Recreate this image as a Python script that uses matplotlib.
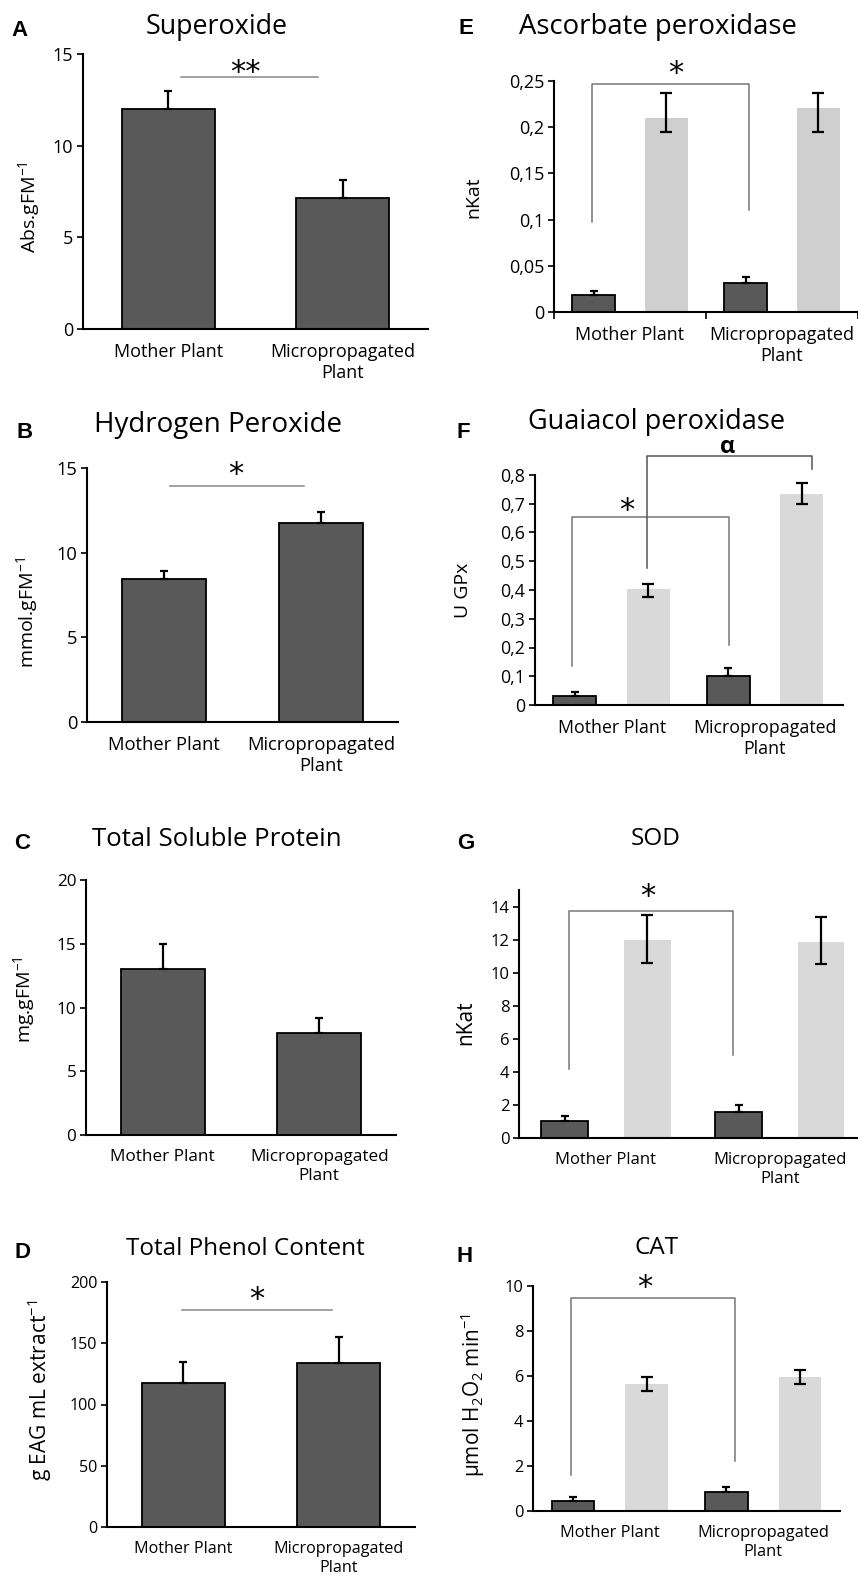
import matplotlib
matplotlib.use("Agg")
import matplotlib.pyplot as plt
import numpy as np

plt.rcParams['font.family'] = ['Open Sans', 'DejaVu Sans']

W, H = 858, 1575
DARK = '#595959'
LIGHT = '#d9d9d9'

groups = ['Mother Plant', 'Micropropagated\nPlant']

# two-bar panels (dark bars, upper error only)
supero = [12.0, 7.15]
supero_err = [1.0, 0.98]
h2o2 = [8.45, 11.75]
h2o2_err = [0.45, 0.65]
protein = [13.0, 8.0]
protein_err = [2.0, 1.2]
phenol = [117.6, 133.9]
phenol_err = [17.1, 21.1]

# four-bar panels: dark + light per group
apx_dark = [0.018, 0.031]
apx_dark_err = [0.005, 0.007]
apx_light = [0.21, 0.221]
apx_light_lo = [0.015, 0.026]
apx_light_hi = [0.027, 0.016]

gpx_dark = [0.031, 0.101]
gpx_dark_err = [0.014, 0.028]
gpx_light = [0.403, 0.734]
gpx_light_lo = [0.027, 0.035]
gpx_light_hi = [0.018, 0.038]

sod_dark = [1.03, 1.57]
sod_dark_err = [0.30, 0.42]
sod_light = [12.0, 11.83]
sod_light_lo = [1.44, 1.33]
sod_light_hi = [1.46, 1.51]

cat_dark = [0.44, 0.84]
cat_dark_err = [0.18, 0.23]
cat_light = [5.64, 5.96]
cat_light_lo = [0.31, 0.32]
cat_light_hi = [0.32, 0.31]

fig = plt.figure(figsize=(W / 100, H / 100), dpi=100)


def px_axes(x0, x1, ytop, ybot):
    return fig.add_axes([x0 / W, 1 - ybot / H, (x1 - x0) / W, (ybot - ytop) / H])


def style(ax, ylim, yticks, yticklabels=None, xlim=(-0.49, 1.49), fs=12.5):
    ax.set_xlim(*xlim)
    ax.set_ylim(*ylim)
    for s in ['top', 'right']:
        ax.spines[s].set_visible(False)
    ax.spines['left'].set_linewidth(1.5)
    ax.spines['bottom'].set_linewidth(1.5)
    ax.set_yticks(yticks)
    if yticklabels is not None:
        ax.set_yticklabels(yticklabels)
    ax.tick_params(axis='y', length=4, width=1.2, labelsize=fs, pad=3)
    ax.set_xticks([0, 1])
    ax.set_xticklabels(groups, fontsize=fs, linespacing=1.25)
    ax.tick_params(axis='x', length=0, pad=10)


def two_bar(ax, vals, errs):
    x = np.arange(2)
    ax.bar(x, vals, width=0.535, color=DARK, edgecolor='black', linewidth=1.3, zorder=2)
    ax.errorbar(x, vals, yerr=[np.zeros(2), errs], fmt='none', ecolor='black',
                elinewidth=1.6, capsize=3, capthick=1.6, zorder=3)


def four_bar(ax, dark, dark_err, light, lo, hi, off=0.24, width=0.28, light_color=LIGHT):
    x = np.arange(2)
    ax.bar(x - off, dark, width=width, color=DARK, edgecolor='black', linewidth=1.3, zorder=2)
    ax.errorbar(x - off, dark, yerr=[np.zeros(2), dark_err], fmt='none', ecolor='black',
                elinewidth=1.6, capsize=3, capthick=1.6, zorder=3)
    ax.bar(x + off, light, width=width, color=light_color, linewidth=0, zorder=2)
    ax.errorbar(x + off, light, yerr=[lo, hi], fmt='none', ecolor='black',
                elinewidth=1.6, capsize=4, capthick=1.6, zorder=3)


def sig_line(ax, x0, x1, y):
    ax.plot([x0, x1], [y, y], color='#888888', lw=1.1, clip_on=False, zorder=1)


def bracket(ax, x0, x1, y, yl, yr, color='#777777'):
    ax.plot([x0, x0, x1, x1], [yl, y, y, yr], color=color, lw=1.1, clip_on=False, zorder=1)


def mark(ax, x, y, s='*', size=22):
    ax.text(x, y, s, ha='center', va='center', fontsize=size, fontfamily='DejaVu Sans',
            clip_on=False)


def title(x, y, s, letter_x, letter_y, letter, size=17.5):
    fig.text(x / W, 1 - y / H, s, ha='center', va='center', fontsize=size)
    fig.text(letter_x / W, 1 - letter_y / H, letter, ha='center', va='center',
             fontsize=16, fontweight='bold', fontfamily='Liberation Sans')


def ylab(x, y, s, size=14):
    fig.text(x / W, 1 - y / H, s, ha='center', va='center', rotation=90, fontsize=size)


# A
ax = px_axes(83, 428, 54, 329)
two_bar(ax, supero, supero_err)
style(ax, (0, 15), [0, 5, 10, 15], fs=13)
sig_line(ax, 0.07, 0.856, 13.75)
mark(ax, 0.44, 14.0, '**')
title(217, 27, 'Superoxide', 20, 30, 'A', 19.4)
ylab(30, 207, r'Abs.gFM$^{\mathregular{-1}}$')

# B
ax = px_axes(87, 398, 468, 722)
two_bar(ax, h2o2, h2o2_err)
style(ax, (0, 15), [0, 5, 10, 15], fs=13.2)
sig_line(ax, 0.04, 0.89, 13.94)
mark(ax, 0.46, 14.6)
title(218, 425, 'Hydrogen Peroxide', 25, 433, 'B', 20)
ylab(28, 613, r'mmol.gFM$^{\mathregular{-1}}$')

# C
ax = px_axes(86, 396, 880, 1135)
two_bar(ax, protein, protein_err)
style(ax, (0, 20), [0, 5, 10, 15, 20], fs=12.3)
title(217, 839, 'Total Soluble Protein', 22, 843, 'C', 18.5)
ylab(25, 1000, r'mg.gFM$^{\mathregular{-1}}$')

# D
ax = px_axes(107, 415, 1282, 1527)
two_bar(ax, phenol, phenol_err)
style(ax, (0, 200), [0, 50, 100, 150, 200], fs=11.6)
sig_line(ax, -0.01, 0.955, 177)
mark(ax, 0.47, 186)
title(245, 1249, 'Total Phenol Content', 22, 1253, 'D', 17.5)
ylab(40, 1390, r'g EAG mL extract$^{\mathregular{-1}}$', 15)

# E
ax = px_axes(554, 858, 81, 312)
four_bar(ax, apx_dark, apx_dark_err, apx_light, apx_light_lo, apx_light_hi,
         light_color='#cfcfcf')
style(ax, (0, 0.25), [0, 0.05, 0.1, 0.15, 0.2, 0.25],
      ['0', '0,05', '0,1', '0,15', '0,2', '0,25'], xlim=(-0.5, 1.5), fs=13)
ax.set_xticks([-0.5, 0.5, 1.5], minor=True)
ax.tick_params(axis='x', which='minor', length=5, width=1.2)
bracket(ax, -0.25, 0.78, 0.247, 0.097, 0.11)
mark(ax, 0.30, 0.258)
title(658, 27, 'Ascorbate peroxidase', 466, 28, 'E', 19.8)
ylab(473, 197, 'nKat')

# F
ax = px_axes(535, 843, 475, 705)
four_bar(ax, gpx_dark, gpx_dark_err, gpx_light, gpx_light_lo, gpx_light_hi)
style(ax, (0, 0.8), [0, 0.1, 0.2, 0.3, 0.4, 0.5, 0.6, 0.7, 0.8],
      ['0', '0,1', '0,2', '0,3', '0,4', '0,5', '0,6', '0,7', '0,8'], xlim=(-0.5, 1.51),
      fs=12.8)
bracket(ax, -0.26, 0.766, 0.654, 0.136, 0.209)
bracket(ax, 0.23, 1.31, 0.866, 0.477, 0.821, color='#555555')
mark(ax, 0.10, 0.675)
ax.text(0.76, 0.898, 'α', ha='center', va='center', fontsize=17, fontweight='bold',
        clip_on=False)
title(657, 422, 'Guaiacol peroxidase', 463, 433, 'F', 19.5)
ylab(463, 590, 'U GPx')

# G
ax = px_axes(519, 858, 890, 1138)
four_bar(ax, sod_dark, sod_dark_err, sod_light, sod_light_lo, sod_light_hi,
         off=0.237, width=0.27)
style(ax, (0, 15), [0, 2, 4, 6, 8, 10, 12, 14], xlim=(-0.5, 1.45), fs=12)
bracket(ax, -0.21, 0.73, 13.7, 4.16, 5.0)
mark(ax, 0.243, 14.6)
title(656, 839, 'SOD', 466, 843, 'G', 17.5)
ylab(466, 1023, 'nKat', 15)

# H
ax = px_axes(533, 840, 1286, 1511)
four_bar(ax, cat_dark, cat_dark_err, cat_light, cat_light_lo, cat_light_hi,
         width=0.277)
style(ax, (0, 10), [0, 2, 4, 6, 8, 10], xlim=(-0.5, 1.5), fs=11.8)
bracket(ax, -0.25, 0.816, 9.47, 1.6, 2.22)
mark(ax, 0.23, 9.95)
title(657, 1248, 'CAT', 465, 1256, 'H', 17.5)
ylab(473, 1395, r'μmol H$_\mathregular{2}$O$_\mathregular{2}$ min$^{\mathregular{-1}}$', 15)

fig.savefig('out.png', dpi=100, facecolor='white')
